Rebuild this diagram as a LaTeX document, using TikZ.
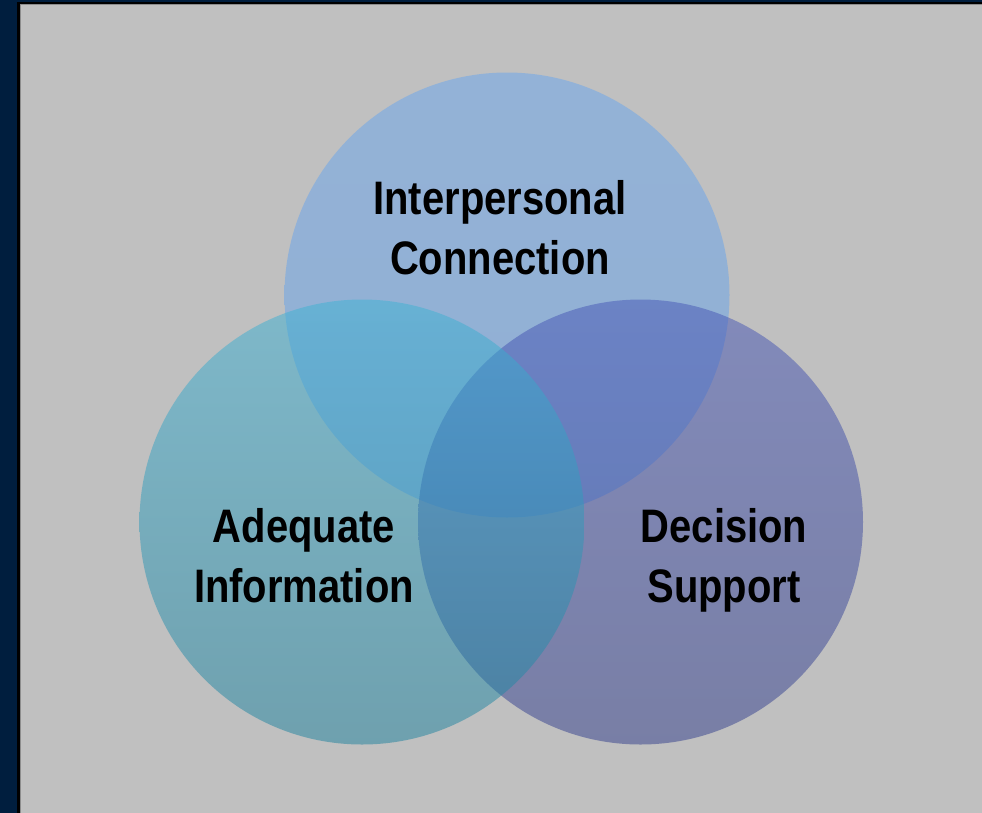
\documentclass[tikz,border=0pt]{standalone}
\usepackage{fontspec}
\setmainfont{Liberation Sans}[FakeStretch=0.85]
\definecolor{navy}{RGB}{0,30,62}
\definecolor{panel}{RGB}{192,192,192}
\definecolor{topA}{RGB}{104,166,238}
\definecolor{topB}{RGB}{100,160,232}
\definecolor{leftA}{RGB}{62,178,212}
\definecolor{leftB}{RGB}{30,130,158}
\definecolor{rightA}{RGB}{70,86,182}
\definecolor{rightB}{RGB}{50,62,140}
\tikzset{
  lbl/.style={align=center,inner sep=0pt,font=\bfseries\fontsize{47}{60}\selectfont,text=black,anchor=base},
  venn/.style={fill opacity=0.5}
}
\begin{document}
\begin{tikzpicture}[x=1pt,y=-1pt]
\useasboundingbox (0,0) rectangle (982,812);
\fill[navy] (-5,-5) rectangle (990,820);
\fill[black] (17,1.5) rectangle (990,820);
\fill[gray!80!panel] (19.5,3.5) rectangle (990,820);
\fill[panel] (20.5,4.5) rectangle (990,820);
\shade[venn,top color=topA,bottom color=topB] (507,295) circle[radius=222.5];
\shade[venn,top color=rightA,bottom color=rightB] (640.5,522) circle[radius=222.5];
\shade[venn,top color=leftA,bottom color=leftB] (362,522) circle[radius=222.5];
\node[lbl] (ic) at (500,274) {Interpersonal\\Connection};
\node[lbl] (ai) at (304,602) {Adequate\\Information};
\node[lbl] (ds) at (724,602) {Decision\\Support};
\end{tikzpicture}
\end{document}
